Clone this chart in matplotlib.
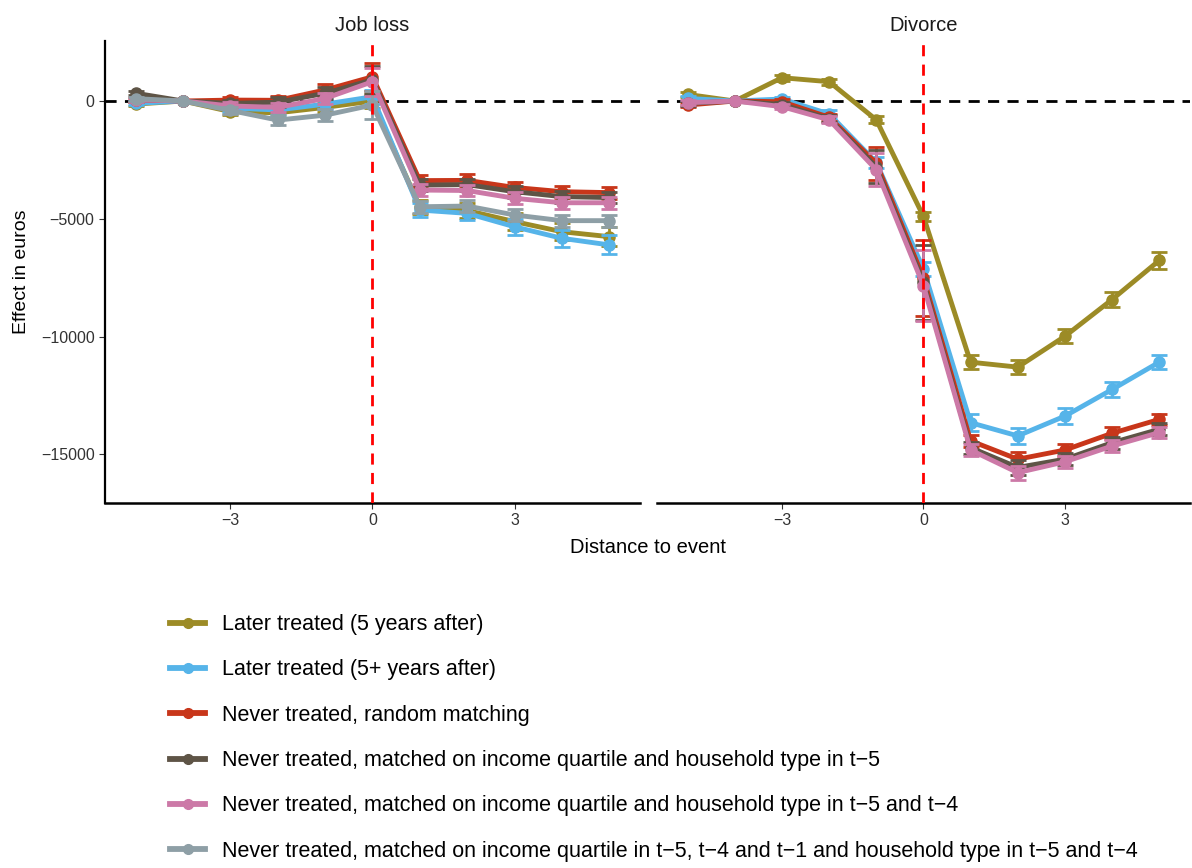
import numpy as np
import matplotlib
matplotlib.use("Agg")
import matplotlib.pyplot as plt
from matplotlib.lines import Line2D

plt.rcParams['font.family'] = ['Liberation Sans', 'DejaVu Sans']

# distance to event
dist = np.arange(-5, 6)

labels = ['Later treated (5 years after)',
          'Later treated (5+ years after)',
          'Never treated, random matching',
          'Never treated, matched on income quartile and household type in t\u22125',
          'Never treated, matched on income quartile and household type in t\u22125 and t\u22124',
          'Never treated, matched on income quartile in t\u22125, t\u22124 and t\u22121 and household type in t\u22125 and t\u22124']
colors = ['#9C8B26', '#56B4E9', '#C8361A', '#5E5446', '#CC79A7', '#8E9FA6']

# Job loss panel
job_later5 = [-130, 0, -450, -500, -270, 0, -4500, -4650, -5120, -5550, -5760]
job_later5p = [-100, 0, -300, -380, -130, 180, -4630, -4770, -5340, -5830, -6110]
job_random = [50, 0, 40, 30, 470, 1030, -3380, -3370, -3670, -3850, -3890]
job_m5 = [330, 0, -100, -50, 330, 900, -3570, -3550, -3850, -4060, -4100]
job_m54 = [50, 0, -210, -270, 110, 820, -3780, -3800, -4130, -4320, -4320]
job_m541 = [100, 0, -400, -810, -600, -170, -4490, -4460, -4840, -5080, -5080]

job_err_later5 = [80, 0, 150, 200, 200, 300, 300, 300, 350, 350, 400]
job_err_later5p = [80, 0, 150, 200, 200, 300, 300, 300, 350, 350, 400]
job_err_random = [80, 0, 150, 200, 250, 600, 250, 250, 250, 250, 250]
job_err_m5 = [80, 0, 150, 200, 250, 600, 250, 250, 250, 250, 250]
job_err_m54 = [80, 0, 150, 200, 250, 600, 250, 250, 250, 250, 250]
job_err_m541 = [80, 0, 150, 200, 250, 600, 250, 250, 250, 250, 250]

# Divorce panel (last comparison group not shown)
div_later5 = [280, 0, 990, 820, -800, -4900, -11090, -11300, -9990, -8430, -6770]
div_later5p = [110, 0, 85, -550, -2610, -7130, -13660, -14220, -13380, -12250, -11090]
div_random = [-170, 0, -30, -690, -2640, -7510, -14430, -15210, -14820, -14110, -13520]
div_m5 = [-100, 0, -150, -750, -2800, -7700, -14720, -15560, -15210, -14510, -13940]
div_m54 = [-70, 0, -240, -800, -2920, -7840, -14820, -15780, -15320, -14650, -14080]
div_m541 = [np.nan] * 11

div_err_later5 = [100, 0, 120, 120, 150, 200, 300, 300, 300, 300, 350]
div_err_later5p = [100, 0, 100, 150, 250, 300, 350, 350, 350, 300, 300]
div_err_random = [100, 0, 100, 150, 700, 1600, 250, 300, 250, 250, 250]
div_err_m5 = [100, 0, 100, 150, 700, 1600, 250, 300, 250, 250, 250]
div_err_m54 = [100, 0, 100, 150, 700, 1500, 250, 300, 250, 250, 250]
div_err_m541 = [np.nan] * 11

panels = [
    ('Job loss',
     [job_later5, job_later5p, job_random, job_m5, job_m54, job_m541],
     [job_err_later5, job_err_later5p, job_err_random, job_err_m5, job_err_m54, job_err_m541]),
    ('Divorce',
     [div_later5, div_later5p, div_random, div_m5, div_m54, div_m541],
     [div_err_later5, div_err_later5p, div_err_random, div_err_m5, div_err_m54, div_err_m541]),
]

fig = plt.figure(figsize=(11.92, 8.68), dpi=100)
ax_pos = [[0.0881, 0.4205, 0.4488, 0.5323], [0.5512, 0.4205, 0.447, 0.5323]]

for ip, (title, series, errs) in enumerate(panels):
    ax = fig.add_axes(ax_pos[ip])
    ax.axhline(0, color='black', lw=2, ls=(0, (4, 3)), zorder=1)
    for ii in range(len(series)):
        y = np.array(series[ii], dtype=float)
        e = np.array(errs[ii], dtype=float)
        if np.all(np.isnan(y)):
            continue
        ax.errorbar(dist, y, yerr=e, color=colors[ii], lw=3.5, marker='o', ms=8,
                    elinewidth=2, capsize=6, capthick=2, zorder=3 + ii)
    ax.axvline(0, color='#FF0000', lw=2, ls=(0, (4, 3)), zorder=20)
    ax.set_xlim(-5.65, 5.65)
    ax.set_ylim(-17070, 2550)
    ax.set_xticks([-3, 0, 3])
    ax.set_yticks([0, -5000, -10000, -15000])
    ax.tick_params(labelsize=11.5, length=4, color='#333333', labelcolor='#333333')
    ax.set_title(title, fontsize=14.5, pad=7, color='#1a1a1a')
    ax.spines['top'].set_visible(False)
    ax.spines['right'].set_visible(False)
    ax.spines['bottom'].set_linewidth(1.8)
    ax.spines['left'].set_linewidth(1.6)
    if ip == 0:
        ax.set_ylabel('Effect in euros', fontsize=14, labelpad=8)
    else:
        ax.spines['left'].set_visible(False)
        ax.tick_params(axis='y', left=False, labelleft=False)

fig.text(0.544, 0.369, 'Distance to event', fontsize=14.5, ha='center', va='center')

handles = [Line2D([], [], color=c, lw=4.2, marker='o', ms=7) for c in colors]
fig.legend(handles, labels, loc='upper left', bbox_to_anchor=(0.1426, 0.2925), frameon=False,
           fontsize=15.5, handlelength=1.63, handletextpad=0.8, labelspacing=1.13,
           borderpad=0, borderaxespad=0)

fig.savefig('out.png', dpi=100)
